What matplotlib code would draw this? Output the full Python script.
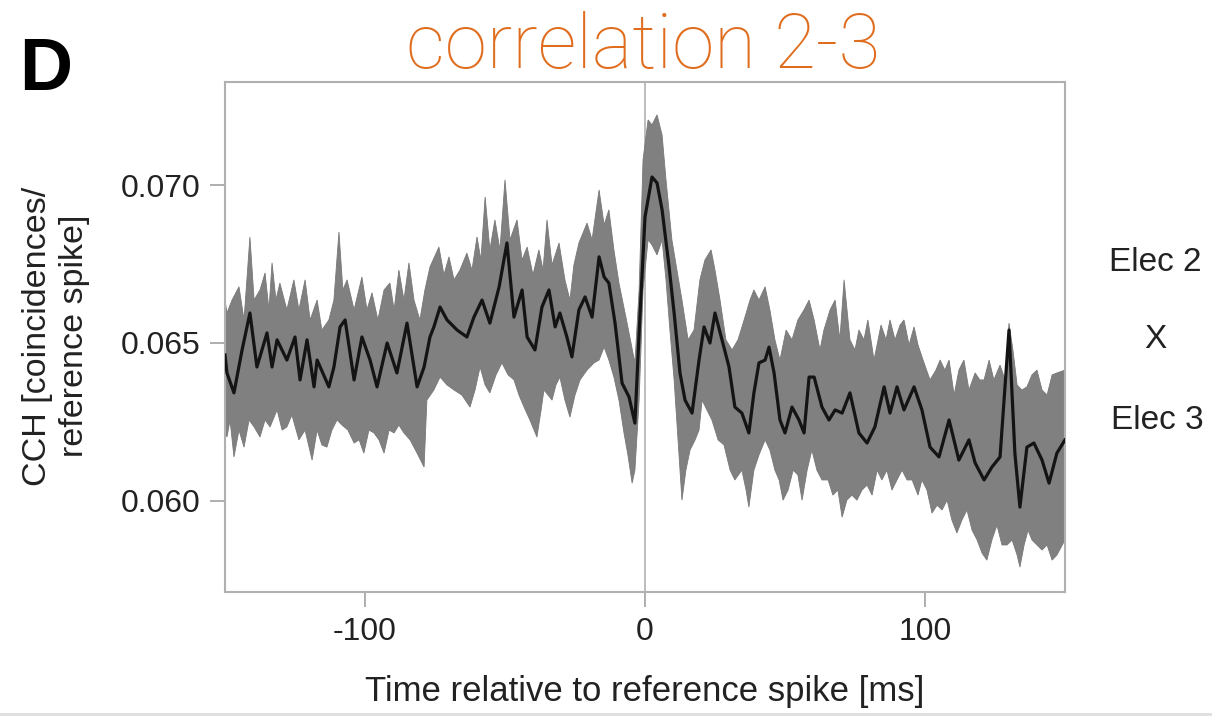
import numpy as np
import matplotlib.pyplot as plt
from matplotlib.lines import Line2D

plt.rcParams['font.family'] = ['Liberation Sans', 'DejaVu Sans']
plt.rcParams['axes.unicode_minus'] = False

# %%
# mean cross-correlogram (dark trace)
mean_ms = [-150, -149.3, -146.8, -143.9, -141.1, -138.6, -135.0, -133.2, -131.4, -127.9,
           -125.0, -123.2, -120.7, -118.2, -117.1, -112.9, -111.1, -108.9, -107.1, -103.9,
           -101.1, -98.2, -95.7, -92.1, -88.6, -85.0, -81.4, -78.9, -76.8, -75.4,
           -73.2, -70.7, -67.1, -63.6, -61.1, -58.2, -55.4, -52.1, -49.3, -46.8,
           -43.9, -42.1, -39.3, -36.8, -34.3, -32.1, -30.4, -27.9, -26.1, -23.6,
           -21.4, -18.9, -16.4, -14.6, -12.9, -10.7, -8.2, -5.7, -3.6, -2.1,
           0, 2.5, 4.3, 6.1, 8.6, 10.4, 12.5, 14.3, 16.8, 19.3,
           21.1, 23.2, 25.0, 27.5, 30.0, 32.1, 34.6, 37.1, 38.9, 40.7,
           42.9, 44.3, 46.1, 48.2, 50.0, 52.5, 55.0, 56.8, 58.6, 60.4,
           63.2, 65.7, 67.9, 70.4, 73.2, 76.4, 79.3, 82.1, 85.4, 87.5,
           90.0, 92.5, 96.1, 98.9, 101.8, 105.0, 108.6, 112.1, 115.7, 117.9,
           121.1, 123.9, 126.8, 130.0, 132.1, 133.9, 136.4, 138.9, 141.8, 144.3,
           147.1, 150]
mean_cch = [0.06462, 0.06405, 0.06342, 0.06478, 0.06595, 0.06424, 0.06532, 0.06424, 0.06510, 0.06446,
            0.06519, 0.06383, 0.06510, 0.06361, 0.06446, 0.06361, 0.06424, 0.06551, 0.06573, 0.06383,
            0.06519, 0.06446, 0.06361, 0.06500, 0.06405, 0.06563, 0.06361, 0.06424, 0.06519, 0.06551,
            0.06614, 0.06573, 0.06541, 0.06519, 0.06582, 0.06636, 0.06563, 0.06678, 0.06817, 0.06582,
            0.06668, 0.06519, 0.06478, 0.06614, 0.06668, 0.06551, 0.06595, 0.06519, 0.06456, 0.06605,
            0.06646, 0.06582, 0.06773, 0.06709, 0.06690, 0.06563, 0.06373, 0.06329, 0.06246, 0.06532,
            0.06899, 0.07026, 0.07007, 0.06922, 0.06741, 0.06595, 0.06405, 0.06319, 0.06278, 0.06446,
            0.06551, 0.06500, 0.06595, 0.06510, 0.06424, 0.06297, 0.06278, 0.06215, 0.06342, 0.06437,
            0.06446, 0.06487, 0.06405, 0.06256, 0.06215, 0.06297, 0.06256, 0.06215, 0.06392, 0.06392,
            0.06297, 0.06256, 0.06288, 0.06278, 0.06342, 0.06215, 0.06183, 0.06234, 0.06361, 0.06278,
            0.06361, 0.06288, 0.06361, 0.06288, 0.06170, 0.06139, 0.06256, 0.06129, 0.06193, 0.06120,
            0.06066, 0.06107, 0.06139, 0.06541, 0.06151, 0.05980, 0.06170, 0.06183, 0.06129, 0.06056,
            0.06151, 0.06193]

# upper edge of the grey band
upper_ms = [-150, -149.3, -147.5, -145.0, -143.2, -141.1, -139.6, -137.5, -135.7, -134.3,
            -133.2, -131.8, -130.4, -127.9, -125.4, -123.6, -121.4, -119.6, -117.1, -115.4,
            -112.9, -111.1, -109.3, -107.9, -106.4, -103.9, -101.1, -99.3, -97.5, -95.4,
            -93.2, -91.1, -89.6, -87.9, -86.1, -84.3, -82.5, -80.4, -78.6, -76.8,
            -73.6, -71.8, -70.0, -68.2, -66.1, -63.6, -61.8, -60.0, -58.6, -57.1,
            -55.4, -53.6, -51.8, -50.0, -48.2, -45.7, -43.9, -42.1, -40.0, -37.9,
            -36.4, -35.0, -33.2, -30.7, -28.6, -26.8, -25.4, -23.6, -20.7, -18.9,
            -16.4, -14.6, -12.9, -11.1, -9.3, -6.4, -3.6, -2.1, -0.7, 1.1,
            2.5, 4.3, 6.1, 7.5, 9.6, 11.4, 13.2, 15.4, 17.5, 19.6,
            21.4, 23.6, 25.0, 26.8, 28.9, 31.1, 33.2, 35.4, 37.5, 38.9,
            40.7, 42.9, 44.6, 46.4, 48.2, 50.4, 52.5, 54.6, 56.8, 58.6,
            60.4, 62.5, 63.9, 66.1, 67.9, 69.6, 71.1, 73.2, 75.0, 76.4,
            78.2, 79.6, 81.8, 84.3, 86.1, 87.5, 89.3, 91.1, 92.5, 94.3,
            96.1, 97.5, 99.3, 101.8, 103.9, 105.4, 107.1, 108.6, 110.4, 112.1,
            113.9, 115.7, 117.9, 119.6, 121.1, 122.9, 124.6, 126.8, 128.6, 130.0,
            131.4, 132.9, 134.6, 136.4, 138.2, 140.0, 141.8, 143.6, 145.4, 147.1,
            150]
upper_cch = [0.06636, 0.06595, 0.06636, 0.06678, 0.06573, 0.06836, 0.06636, 0.06668, 0.06722, 0.06605,
             0.06754, 0.06636, 0.06690, 0.06605, 0.06700, 0.06605, 0.06700, 0.06573, 0.06636, 0.06541,
             0.06573, 0.06636, 0.06852, 0.06668, 0.06700, 0.06605, 0.06709, 0.06605, 0.06659, 0.06573,
             0.06668, 0.06690, 0.06605, 0.06731, 0.06636, 0.06754, 0.06636, 0.06573, 0.06668, 0.06741,
             0.06804, 0.06716, 0.06773, 0.06700, 0.06731, 0.06785, 0.06731, 0.06836, 0.06763, 0.06963,
             0.06795, 0.06890, 0.06795, 0.07017, 0.06827, 0.06890, 0.06763, 0.06804, 0.06716, 0.06795,
             0.06731, 0.06890, 0.06747, 0.06817, 0.06700, 0.06636, 0.06747, 0.06817, 0.06880, 0.06827,
             0.06985, 0.06874, 0.06922, 0.06795, 0.06690, 0.06563, 0.06437, 0.06668, 0.07080, 0.07207,
             0.07191, 0.07223, 0.07159, 0.07017, 0.06827, 0.06731, 0.06636, 0.06510, 0.06541, 0.06700,
             0.06763, 0.06795, 0.06731, 0.06636, 0.06510, 0.06478, 0.06510, 0.06573, 0.06636, 0.06668,
             0.06636, 0.06678, 0.06605, 0.06510, 0.06446, 0.06541, 0.06510, 0.06573, 0.06605, 0.06636,
             0.06573, 0.06478, 0.06541, 0.06605, 0.06636, 0.06510, 0.06700, 0.06510, 0.06478, 0.06541,
             0.06510, 0.06573, 0.06446, 0.06557, 0.06510, 0.06573, 0.06510, 0.06557, 0.06573, 0.06494,
             0.06551, 0.06494, 0.06446, 0.06383, 0.06414, 0.06446, 0.06414, 0.06446, 0.06335, 0.06414,
             0.06446, 0.06351, 0.06405, 0.06383, 0.06383, 0.06446, 0.06383, 0.06430, 0.06383, 0.06563,
             0.06478, 0.06367, 0.06351, 0.06361, 0.06399, 0.06414, 0.06351, 0.06335, 0.06399, 0.06405,
             0.06414]

# lower edge of the grey band
lower_ms = [-150, -149.3, -148.2, -146.8, -145.0, -143.2, -141.4, -139.6, -137.5, -135.7,
            -133.9, -131.4, -129.6, -127.9, -126.1, -123.6, -121.4, -118.9, -117.1, -115.4,
            -113.6, -111.8, -110.0, -108.2, -106.1, -103.9, -102.1, -100.4, -98.6, -96.8,
            -95.0, -93.2, -91.4, -89.6, -87.9, -86.1, -83.9, -81.4, -78.9, -77.9,
            -75.4, -73.2, -70.7, -68.2, -65.4, -62.5, -60.7, -58.9, -57.1, -55.4,
            -53.2, -51.1, -48.9, -46.8, -45.0, -43.2, -41.1, -38.6, -37.1, -36.1,
            -34.6, -33.2, -31.8, -30.4, -28.6, -26.8, -25.0, -23.2, -20.7, -18.2,
            -16.4, -14.6, -12.9, -11.1, -9.3, -7.5, -6.1, -4.6, -3.6, -2.1,
            -0.7, 1.1, 2.5, 4.3, 6.1, 7.5, 8.9, 10.4, 11.8, 13.2,
            14.6, 16.1, 17.9, 19.3, 20.4, 22.1, 23.9, 26.1, 28.2, 30.4,
            32.1, 34.6, 36.1, 37.1, 38.9, 40.7, 42.9, 44.6, 46.4, 47.9,
            49.3, 51.1, 52.9, 54.6, 56.1, 57.9, 59.6, 61.4, 63.2, 65.4,
            67.1, 68.9, 70.4, 72.1, 73.9, 75.7, 77.5, 79.3, 81.1, 82.9,
            84.6, 86.4, 88.2, 90.0, 91.8, 93.6, 95.4, 97.5, 98.9, 100.7,
            102.5, 104.3, 106.1, 107.9, 109.6, 111.4, 113.2, 115.0, 116.8, 118.6,
            120.4, 122.1, 123.9, 125.7, 127.5, 129.3, 131.1, 132.9, 133.9, 135.4,
            136.8, 138.2, 140.0, 141.8, 143.6, 145.4, 147.1, 150]
lower_cch = [0.06224, 0.06202, 0.06256, 0.06139, 0.06224, 0.06170, 0.06256, 0.06234, 0.06202, 0.06256,
             0.06234, 0.06288, 0.06224, 0.06234, 0.06272, 0.06193, 0.06224, 0.06129, 0.06224, 0.06177,
             0.06170, 0.06224, 0.06256, 0.06240, 0.06224, 0.06183, 0.06193, 0.06151, 0.06224, 0.06215,
             0.06193, 0.06151, 0.06224, 0.06215, 0.06240, 0.06215, 0.06193, 0.06151, 0.06107, 0.06319,
             0.06351, 0.06392, 0.06367, 0.06351, 0.06335, 0.06297, 0.06351, 0.06424, 0.06367, 0.06342,
             0.06399, 0.06437, 0.06399, 0.06383, 0.06335, 0.06297, 0.06256, 0.06202, 0.06288, 0.06351,
             0.06335, 0.06319, 0.06367, 0.06392, 0.06319, 0.06265, 0.06335, 0.06383, 0.06414, 0.06437,
             0.06446, 0.06487, 0.06446, 0.06392, 0.06319, 0.06215, 0.06145, 0.06056, 0.06097, 0.06319,
             0.06668, 0.06827, 0.06811, 0.06779, 0.06827, 0.06700, 0.06541, 0.06383, 0.06193, 0.06002,
             0.06097, 0.06161, 0.06193, 0.06224, 0.06319, 0.06288, 0.06256, 0.06193, 0.06177, 0.06097,
             0.06066, 0.06097, 0.06034, 0.05980, 0.06097, 0.06145, 0.06193, 0.06161, 0.06097, 0.06066,
             0.06002, 0.06034, 0.06097, 0.06082, 0.06002, 0.06097, 0.06161, 0.06097, 0.06066, 0.06066,
             0.06018, 0.06034, 0.05948, 0.06002, 0.06018, 0.06002, 0.06034, 0.06050, 0.06018, 0.06097,
             0.06066, 0.06097, 0.06034, 0.06066, 0.06097, 0.06066, 0.06066, 0.06018, 0.06066, 0.06034,
             0.05961, 0.05986, 0.05971, 0.06002, 0.05939, 0.05898, 0.05939, 0.05971, 0.05907, 0.05876,
             0.05834, 0.05812, 0.05876, 0.05923, 0.05860, 0.05860, 0.05876, 0.05828, 0.05790, 0.05860,
             0.05907, 0.05876, 0.05860, 0.05844, 0.05860, 0.05812, 0.05828, 0.05876]

x_ticks = [-100, 0, 100]
y_ticks = [0.060, 0.065, 0.070]
y_ticklabels = ['0.060', '0.065', '0.070']

# %%
fig = plt.figure(figsize=(12.12, 7.18), dpi=100)
ax = fig.add_axes([225 / 1212, 1 - 592 / 718, 840 / 1212, 510 / 718])

# band as one polygon: upper edge left->right, lower edge right->left
band_x = np.concatenate([upper_ms, lower_ms[::-1]])
band_y = np.concatenate([upper_cch, lower_cch[::-1]])

ax.axvline(0, color='#b8b8b8', lw=1.3, zorder=1)
ax.fill(band_x, band_y, color='#808080', lw=0.6, ec='#787878', zorder=2)
ax.plot(mean_ms, mean_cch, color='#141414', lw=2.3, zorder=3)

ax.set_xlim(-150, 150)
ax.set_ylim(0.05711, 0.07327)
ax.set_xticks(x_ticks)
ax.set_yticks(y_ticks)
ax.set_yticklabels(y_ticklabels)
ax.tick_params(direction='out', length=11, width=1.3, color='#a8a8a8',
               labelsize=23, labelcolor='#222222', pad=7)
for s in ax.spines.values():
    s.set_color('#b0b0b0')
    s.set_linewidth(1.5)

# labels
fig.text(645 / 1212, 1 - 692 / 718, 'Time relative to reference spike [ms]',
         ha='center', va='center', fontsize=25, color='#222222')
fig.text(56 / 1212, 1 - 336 / 718, 'CCH [coincidences/\nreference spike]',
         rotation=90, ha='center', va='center', fontsize=24.5, color='#222222',
         linespacing=1.22)

fig.text(1155 / 1212, 1 - 262 / 718, 'Elec 2', ha='center', va='center', fontsize=24, color='#222222')
fig.text(1155 / 1212, 1 - 340 / 718, 'X', ha='center', va='center', fontsize=24, color='#222222')
fig.text(1157 / 1212, 1 - 420 / 718, 'Elec 3', ha='center', va='center', fontsize=24, color='#222222')

fig.text(19 / 1212, 1 - 90 / 718, 'D', ha='left', va='baseline', fontsize=53,
         fontweight='bold', color='black')
fig.text(643 / 1212, 1 - 68 / 718, 'correlation 2-3', ha='center', va='baseline',
         fontsize=55, color='#e06d1e', family=['Roboto', 'DejaVu Sans'], fontweight='light')

fig.add_artist(Line2D([0, 1], [1 - 714 / 718] * 2, transform=fig.transFigure,
                      color='#dedede', lw=2))

fig.savefig('out.png', dpi=100)
